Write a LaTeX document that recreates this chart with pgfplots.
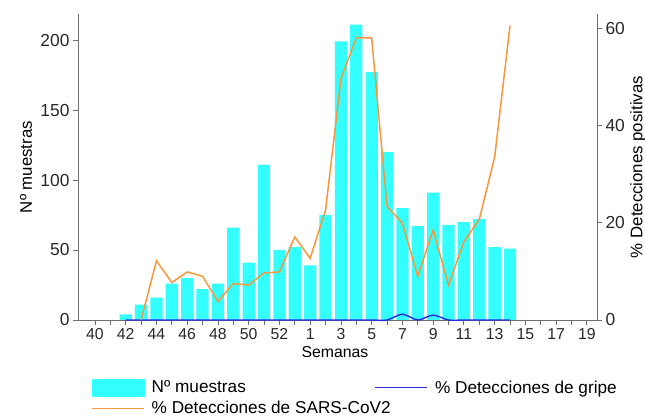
\documentclass[border=0pt]{standalone}
\usepackage{fontspec}
\setmainfont{Liberation Sans}
\usepackage{pgfplots}
\pgfplotsset{compat=1.18}
\definecolor{cyanbar}{RGB}{51,255,255}
\definecolor{sarsorange}{RGB}{248,150,60}
\definecolor{flublue}{RGB}{40,40,230}
\definecolor{axisgray}{RGB}{110,110,110}
\definecolor{ticktext}{RGB}{40,40,40}
\pgfplotsset{
  barlegend/.style={legend image code/.code={\fill[cyanbar] (0pt,-8.5pt) rectangle (52pt,8.5pt);}},
  common/.style={
    scale only axis, width=519pt, height=306pt,
    xmin=-1.106, xmax=32.66,
    tick align=outside,
    major tick length=5pt, minor tick length=5pt,
    tick style={axisgray, line width=0.8pt},
    axis line style={draw=axisgray, line width=0.8pt},
    /pgf/number format/assume math mode=true,
  }
}
\begin{document}
\begin{tikzpicture}
\useasboundingbox (-78pt,-99pt) rectangle (567pt,320pt);
\begin{axis}[
  common,
  ymin=0, ymax=218.6,
  axis x line*=bottom, axis y line*=left,
  xtick={0,2,...,32},
  xticklabels={40,42,44,46,48,50,52,1,3,5,7,9,11,13,15,17,19},
  minor xtick={1,3,...,31},
  ytick={0,50,100,150,200},
  xticklabel style={font=\fontsize{15.8}{18}\selectfont, text=ticktext},
  yticklabel style={font=\fontsize{17.4}{20}\selectfont, text=ticktext},
  xlabel={Semanas},
  xlabel style={at={(axis description cs:0.495,-0.1046)}, anchor=center, font=\fontsize{15.8}{18}\selectfont},
  ylabel={Nº muestras},
  ylabel style={at={(axis description cs:-0.1002,0.5)}, anchor=center, font=\fontsize{16.8}{19}\selectfont},
  ybar, bar width=12.3pt,
]
\addplot[fill=cyanbar, draw=none] coordinates {
 (2,4) (3,11) (4,16) (5,26) (6,30) (7,22) (8,26) (9,66) (10,41) (11,111)
 (12,50) (13,52) (14,39) (15,75) (16,199) (17,211) (18,177) (19,120) (20,80)
 (21,67) (22,91) (23,68) (24,70) (25,72) (26,52) (27,51)
};
\end{axis}
\begin{axis}[
  common,
  ymin=0, ymax=63,
  axis x line=none, axis y line*=right,
  ytick={0,20,40,60},
  yticklabel style={font=\fontsize{17.4}{20}\selectfont, text=ticktext},
  ylabel={\% Detecciones positivas},
  ylabel style={at={(axis description cs:1.079,0.5)}, anchor=center, font=\fontsize{16.8}{19}\selectfont},
  clip=false,
  legend image code/.code={\draw[#1] (0pt,0pt) -- (52pt,0pt);},
  legend columns=2,
  legend cell align=left,
  legend style={font=\fontsize{17.2}{20}\selectfont, draw=none, fill=none,
    at={(rel axis cs:0.02505,-0.192)}, anchor=north west,
    inner sep=0pt, column sep=0pt, row sep=5pt,
    nodes={inner sep=0pt},
    /tikz/every odd column/.append style={column sep=7pt},
    /tikz/every even column/.append style={column sep=8pt}},
]
\addlegendimage{barlegend}
\addlegendentry{\makebox[215pt][l]{Nº muestras}}
\addplot[flublue, line width=1.4pt, smooth, tension=0.5] coordinates {
 (2,0) (3,0) (4,0) (5,0) (6,0) (7,0) (8,0) (9,0) (10,0) (11,0) (12,0) (13,0)
 (14,0) (15,0) (16,0) (17,0) (18,0) (19,0) (20,1.2) (21,0) (22,1.0) (23,0)
 (24,0) (25,0) (26,0) (27,0)
};
\addlegendentry{\% Detecciones de gripe}
\addplot[sarsorange, line width=1.5pt] coordinates {
 (3,0) (4,12.2) (5,7.7) (6,9.9) (7,9.0) (8,3.8) (9,7.5) (10,7.2) (11,9.7)
 (12,9.9) (13,17.1) (14,12.7) (15,22.6) (16,49.6) (17,58.1) (18,58.1)
 (19,23.4) (20,19.9) (21,9.0) (22,18.5) (23,7.2) (24,16.1) (25,20.7)
 (26,33.5) (27,60.6)
};
\addlegendentry{\makebox[215pt][l]{\% Detecciones de SARS-CoV2}}
\end{axis}
\end{tikzpicture}
\end{document}
